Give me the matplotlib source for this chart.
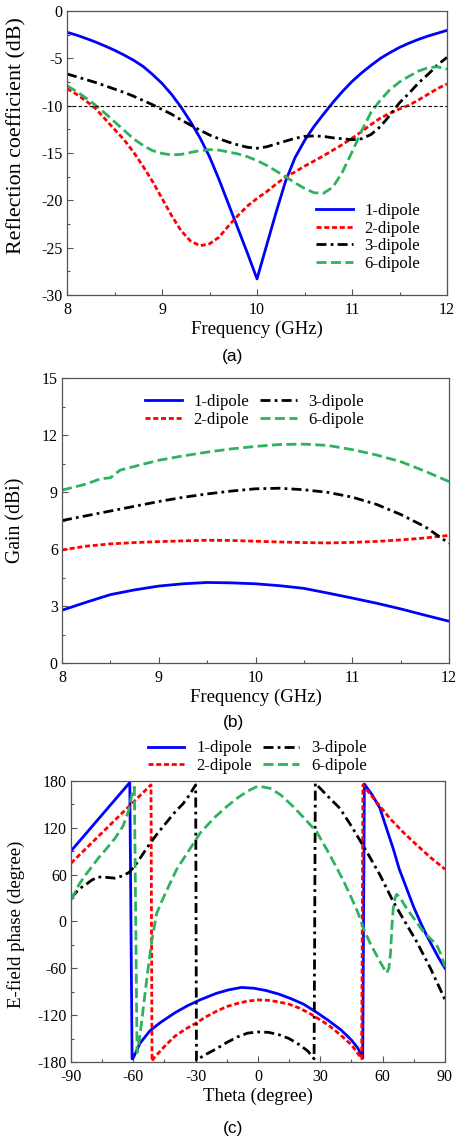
import matplotlib
matplotlib.use("Agg")
import matplotlib.pyplot as plt
from matplotlib.ticker import MultipleLocator

plt.rcParams['font.family'] = ['Liberation Serif', 'DejaVu Serif']
plt.rcParams['axes.unicode_minus'] = False

# --- (a) reflection coefficient vs frequency ---
freq_a = [8.0, 8.1, 8.2, 8.3, 8.4, 8.5, 8.6, 8.7, 8.8, 8.9, 9.0,
          9.1, 9.2, 9.3, 9.4, 9.5, 9.6, 9.7, 9.8, 9.9, 10.0,
          10.1, 10.2, 10.3, 10.4, 10.5, 10.6, 10.7, 10.8, 10.9, 11.0,
          11.1, 11.2, 11.3, 11.4, 11.5, 11.6, 11.7, 11.8, 11.9, 12.0]
s11_1 = [-2.25, -2.55, -2.9, -3.28, -3.7, -4.15, -4.65, -5.2, -5.85, -6.7, -7.65,
         -8.8, -10.15, -11.7, -13.4, -15.4, -17.8, -20.4, -23.0, -25.6, -28.3,
         -24.8, -21.3, -18.0, -15.5, -13.7, -12.2, -10.9, -9.65, -8.5, -7.45,
         -6.55, -5.75, -5.0, -4.4, -3.85, -3.4, -3.0, -2.65, -2.35, -2.05]
s11_2 = [-8.2, -8.8, -9.5, -10.3, -11.4, -12.5, -13.6, -14.9, -16.4, -18.0, -19.8,
         -21.6, -23.2, -24.3, -24.8, -24.6, -23.9, -22.7, -21.6, -20.6, -19.8,
         -19.1, -18.3, -17.55, -17.0, -16.4, -15.85, -15.3, -14.7, -14.1, -13.45,
         -12.75, -12.0, -11.3, -10.8, -10.35, -9.95, -9.4, -8.8, -8.2, -7.7]
s11_3 = [-6.65, -6.95, -7.25, -7.55, -7.9, -8.25, -8.6, -9.0, -9.45, -9.9, -10.4,
         -10.9, -11.5, -12.05, -12.6, -13.1, -13.5, -13.85, -14.15, -14.4, -14.5,
         -14.35, -14.05, -13.75, -13.45, -13.25, -13.2, -13.25, -13.4, -13.5, -13.6,
         -13.5, -13.05, -12.2, -11.0, -9.7, -8.7, -7.6, -6.7, -5.7, -4.9]
s11_6 = [-7.9, -8.5, -9.2, -9.95, -10.8, -11.7, -12.6, -13.5, -14.2, -14.75, -15.05,
         -15.2, -15.15, -14.95, -14.75, -14.65, -14.7, -14.9, -15.1, -15.4, -15.8,
         -16.3, -16.9, -17.5, -18.15, -18.75, -19.2, -19.25, -18.6, -17.0, -14.9,
         -12.7, -10.7, -9.4, -8.3, -7.5, -6.9, -6.35, -6.0, -5.9, -6.15]

# --- (b) gain vs frequency ---
freq_b = [8.0, 8.25, 8.5, 8.75, 9.0, 9.25, 9.5, 9.75, 10.0,
          10.25, 10.5, 10.75, 11.0, 11.25, 11.5, 11.75, 12.0]
gain_1 = [2.78, 3.2, 3.6, 3.85, 4.05, 4.17, 4.24, 4.22, 4.17,
          4.07, 3.93, 3.68, 3.42, 3.15, 2.85, 2.52, 2.2]
gain_2 = [5.95, 6.15, 6.27, 6.34, 6.39, 6.43, 6.46, 6.45, 6.41,
          6.37, 6.34, 6.32, 6.35, 6.4, 6.48, 6.58, 6.72]
gain_3 = [7.5, 7.75, 8.0, 8.25, 8.5, 8.72, 8.9, 9.05, 9.17,
          9.2, 9.12, 8.98, 8.73, 8.35, 7.82, 7.18, 6.3]
freq_b6 = [8.0, 8.25, 8.4, 8.5, 8.6, 8.75, 9.0, 9.25, 9.5, 9.75, 10.0,
           10.25, 10.5, 10.75, 11.0, 11.25, 11.5, 11.75, 12.0]
gain_6 = [9.1, 9.42, 9.7, 9.75, 10.15, 10.35, 10.67, 10.9, 11.1, 11.27, 11.4,
          11.5, 11.52, 11.45, 11.23, 10.95, 10.6, 10.1, 9.55]

# --- (c) E-field phase vs theta ---
theta_1 = [-90, -80, -70, -61.7, -60.6, -60, -56.8, -52, -47, -40, -34, -28, -20,
           -14, -8, -2, 4, 10, 16, 22, 28, 34, 40, 45, 48, 50.4, 51.2, 55, 58.7,
           62, 65, 68, 71.5, 75, 78, 81, 84.4, 87, 90]
phase_1 = [90.3, 121.3, 152.3, 178, -176, -174.5, -156, -140, -129.5, -117, -108,
           -100.5, -92, -87.5, -84.5, -85.5, -88.5, -93, -99, -106, -116, -127,
           -139, -152, -162, -175, 176, 162, 145, 118, 94, 67, 42.5, 18, 0, -17,
           -34, -47, -60]
theta_2 = [-90, -70, -51.5, -51.0, -50.4, -45, -40, -35, -30, -25, -20, -15, -10,
           -5, 0, 5, 10, 15, 20, 25, 30, 35, 40, 45, 49.9, 50.5, 57, 63.5, 70,
           76.4, 83, 90]
phase_2 = [74.6, 126.8, 175, -179, -176, -160, -147, -138, -130.5, -122, -115,
           -109, -105, -102, -100.5, -101, -103, -106, -111, -118, -126, -135,
           -146, -158, -176, 175, 153, 132, 114, 98, 82, 67]
theta_3 = [-90, -86, -83, -80, -77, -73, -69, -65, -62, -59, -56, -52, -48, -44,
           -40, -36, -33, -30, -29.6, -26.3, -20, -15, -10, -5, 0, 5, 10, 15, 20,
           24, 27, 27.6, 33, 39.4, 45, 52.3, 58.7, 65.1, 70, 76.4, 83, 90]
phase_3 = [29.7, 42, 47, 53, 57, 56.5, 55.5, 58.5, 63, 72, 84, 100, 114, 127,
           140, 151, 162, 175, -178, -172, -163, -155, -148, -143, -141.5, -142,
           -145, -150, -158, -166, -176, 177, 162, 145, 122, 89.5, 59.6, 25.4, 3,
           -26, -60, -100]
theta_6 = [-90, -86, -83, -80, -76.9, -73, -68.8, -65, -62.4, -60.5, -59.5, -58.2,
           -57, -55.2, -53.6, -51.2, -48.8, -46.4, -43, -39.1, -33, -27.9, -21,
           -15.1, -10, -5, 0, 5.8, 11, 17, 22, 28.2, 34, 41, 45, 48, 50.7, 54,
           58.7, 61, 61.9, 63, 63.8, 64.5, 65.1, 66, 66.7, 68, 71.5, 75, 79.6, 83,
           86, 88, 90]
phase_6 = [27.5, 48, 59.6, 70, 81, 93, 106.6, 122, 140.7, 165, 172, -168,
           -150, -111, -75, -26, 10, 25.4, 45, 67, 92, 113, 133,
           147, 158, 167, 173.5, 170.6, 162, 147, 133, 115, 88, 53, 30, 12, -8.7,
           -28, -51.5, -62, -66, -60, -40, -5, 17, 30, 34.8, 32, 17, 4, -13, -22,
           -30, -42, -58]

labels = ['1-dipole', '2-dipole', '3-dipole', '6-dipole']
colors = ['#0000ff', '#ff0000', '#000000', '#2db35d']
styles = ['-', (0, (1.8, 1.0)), (0, (3.6, 1.5, 1.0, 1.5)), (0, (3.6, 1.6))]
LW = 2.0

frame_color = '#555555'
TICK_FS = 11.5
LABEL_FS = 13.5


def style_axes(ax, xmaj, xmin, ymaj, ymin):
    ax.xaxis.set_major_locator(MultipleLocator(xmaj))
    ax.xaxis.set_minor_locator(MultipleLocator(xmin))
    ax.yaxis.set_major_locator(MultipleLocator(ymaj))
    ax.yaxis.set_minor_locator(MultipleLocator(ymin))
    ax.tick_params(which='both', direction='in', top=False, right=False,
                   colors=frame_color, labelcolor='black', labelsize=TICK_FS)
    ax.tick_params(which='major', length=4, width=0.8)
    ax.tick_params(which='minor', length=2.5, width=0.8)
    ax.tick_params(axis='x', pad=5)
    ax.tick_params(axis='y', pad=3)
    for sp in ax.spines.values():
        sp.set_color(frame_color)
        sp.set_linewidth(0.9)


legend_kw = dict(frameon=False, fontsize=12, handlelength=2.2,
                 handletextpad=0.7, labelspacing=0.1, borderpad=0,
                 borderaxespad=0)

fig = plt.figure(figsize=(4.58, 11.42), dpi=100)

# (a)
ax1 = fig.add_axes([0.1463, 0.7417, 0.8297, 0.2487])
for y, c, ls, lab in zip([s11_1, s11_2, s11_3, s11_6], colors, styles, labels):
    ax1.plot(freq_a, y, color=c, ls=ls, lw=LW, label=lab)
ax1.axhline(-10, color='black', lw=0.8, ls=(0, (3, 2)))
ax1.set_xlim(8, 12)
ax1.set_ylim(-30, 0)
style_axes(ax1, 1, 0.5, 5, 2.5)
ax1.set_xlabel('Frequency (GHz)', fontsize=LABEL_FS, labelpad=2)
ax1.set_ylabel('Reflection coefficient (dB)', fontsize=15.8)
ax1.yaxis.set_label_coords(-0.106, 0.563)
ax1.legend(loc='upper left', bbox_to_anchor=(0.655, 0.324), **legend_kw)

# (b)
ax2 = fig.add_axes([0.1354, 0.4194, 0.845, 0.2496])
ax2.plot(freq_b, gain_1, color=colors[0], ls=styles[0], lw=LW, label=labels[0])
ax2.plot(freq_b, gain_2, color=colors[1], ls=styles[1], lw=LW, label=labels[1])
ax2.plot(freq_b, gain_3, color=colors[2], ls=styles[2], lw=LW, label=labels[2])
ax2.plot(freq_b6, gain_6, color=colors[3], ls=styles[3], lw=LW, label=labels[3])
ax2.set_xlim(8, 12)
ax2.set_ylim(0, 15)
style_axes(ax2, 1, 0.5, 3, 1.5)
ax2.set_xlabel('Frequency (GHz)', fontsize=LABEL_FS, labelpad=2)
ax2.set_ylabel('Gain (dBi)', fontsize=14.2)
ax2.yaxis.set_label_coords(-0.0956, 0.5)
ax2.legend(loc='upper left', bbox_to_anchor=(0.215, 0.944), ncol=2,
           columnspacing=0.65, **legend_kw)

# (c)
ax3 = fig.add_axes([0.155, 0.07005, 0.8166, 0.2461])
for t, p, c, ls, lab in zip([theta_1, theta_2, theta_3, theta_6],
                            [phase_1, phase_2, phase_3, phase_6],
                            colors, styles, labels):
    ax3.plot(t, p, color=c, ls=ls, lw=LW, label=lab)
ax3.set_xlim(-90, 90)
ax3.set_ylim(-180, 180)
style_axes(ax3, 30, 15, 60, 30)
ax3.set_xlabel('Theta (degree)', fontsize=LABEL_FS, labelpad=2)
ax3.set_ylabel('E-field phase (degree)', fontsize=13.6)
ax3.yaxis.set_label_coords(-0.123, 0.491)
ax3.legend(loc='upper left', bbox_to_anchor=(0.205, 1.144), ncol=2,
           columnspacing=0.65, **legend_kw)

# panel captions
for yc, tag in [(357, '(a)'), (723, '(b)'), (1128, '(c)')]:
    fig.text(233 / 458, 1 - yc / 1142, tag, ha='center', va='center',
             fontsize=12.5, family=['Liberation Sans', 'DejaVu Sans'])

fig.savefig('out.png', dpi=100)
